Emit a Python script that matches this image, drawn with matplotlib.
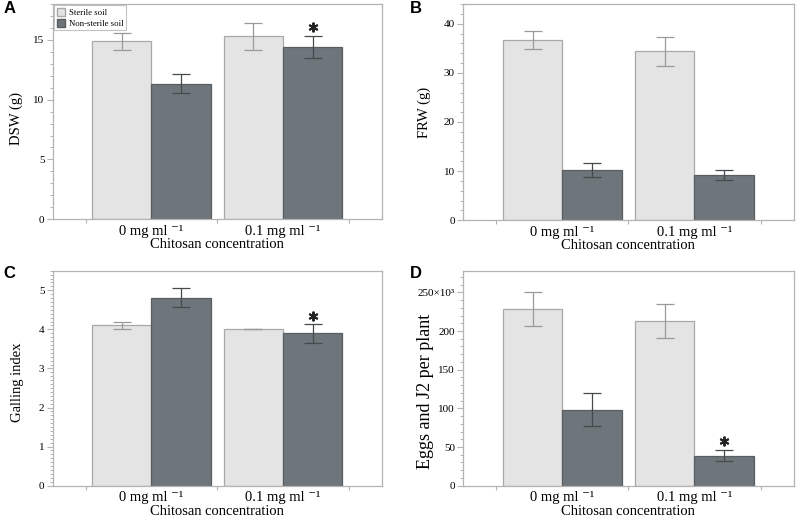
import matplotlib
matplotlib.use("Agg")
import matplotlib.pyplot as plt
from matplotlib.ticker import AutoMinorLocator, FixedLocator, FuncFormatter
from matplotlib.patches import Patch
from matplotlib.transforms import offset_copy

plt.rcParams['font.family'] = ['Liberation Serif', 'DejaVu Serif']

# ---- data ----
concentrations = ["0 mg ml \u207b\u00b9", "0.1 mg ml \u207b\u00b9"]
series_names = ["Sterile soil", "Non-sterile soil"]

dsw_sterile = [14.9, 15.3]
dsw_sterile_err = [0.7, 1.15]
dsw_nonsterile = [11.35, 14.4]
dsw_nonsterile_err = [0.8, 0.95]

frw_sterile = [36.7, 34.4]
frw_sterile_err = [1.9, 3.0]
frw_nonsterile = [10.2, 9.2]
frw_nonsterile_err = [1.4, 0.95]

gall_sterile = [4.1, 4.0]
gall_sterile_err = [0.1, 0.0]
gall_nonsterile = [4.81, 3.9]
gall_nonsterile_err = [0.25, 0.24]

eggs_sterile = [228.5, 213.0]      # x10^3
eggs_sterile_err = [22.5, 21.5]
eggs_nonsterile = [98.5, 39.0]
eggs_nonsterile_err = [21.0, 7.5]

# significance marks (non-sterile bars)
dsw_star = [False, True]
frw_star = [False, False]
gall_star = [False, True]
eggs_star = [False, True]

# ---- style ----
light = "#e4e4e4"
light_edge = "#a8a8a8"
dark = "#6e767b"
dark_edge = "#585d61"
spine_col = "#b4b4b4"

fig = plt.figure(figsize=(8, 5.18), dpi=100)

# letter, axes rect, ylabel, ylabel size, ylabel pos, ytop, ystep, minor subdiv, data...
panels = [
    ("A", [0.066, 0.577, 0.411, 0.415], "DSW (g)", 10.5, (-0.091, 0.47), 18, 5, 5,
     dsw_sterile, dsw_sterile_err, dsw_nonsterile, dsw_nonsterile_err, dsw_star),
    ("B", [0.579, 0.575, 0.413, 0.417], "FRW (g)", 10.5, (-0.098, 0.5), 44, 10, 5,
     frw_sterile, frw_sterile_err, frw_nonsterile, frw_nonsterile_err, frw_star),
    ("C", [0.066, 0.0624, 0.411, 0.415], "Galling index", 10.5, (-0.087, 0.48), 5.5, 1, 10,
     gall_sterile, gall_sterile_err, gall_nonsterile, gall_nonsterile_err, gall_star),
    ("D", [0.579, 0.0624, 0.413, 0.415], "Eggs and J2 per plant", 13, (-0.089, 0.44), 278, 50, 5,
     eggs_sterile, eggs_sterile_err, eggs_nonsterile, eggs_nonsterile_err, eggs_star),
]

w = 0.45
xs = list(range(len(concentrations)))

for letter, pos, ylabel, ylsize, ylpos, ytop, ystep, nminor, s, se, n, ne, star in panels:
    ax = fig.add_axes(pos)
    xl = [x - w / 2 for x in xs]
    xr = [x + w / 2 for x in xs]
    ax.bar(xl, s, width=w, color=light, edgecolor=light_edge, linewidth=0.9, zorder=2)
    ax.bar(xr, n, width=w, color=dark, edgecolor=dark_edge, linewidth=0.9, zorder=2)
    ax.errorbar(xl, s, yerr=se, fmt="none", ecolor="#9a9a9a", elinewidth=0.9,
                capsize=6.5, capthick=0.9, zorder=3)
    ax.errorbar(xr, n, yerr=ne, fmt="none", ecolor="#454a4d", elinewidth=0.9,
                capsize=6.5, capthick=0.9, zorder=3)
    star_tr = offset_copy(ax.transData, fig=fig, x=0, y=6, units="points")
    for i, flag in enumerate(star):
        if flag:
            ax.plot([xr[i]], [n[i] + ne[i]], marker=(6, 2, 0), markersize=7,
                    mew=1.4, color="#222222", transform=star_tr, zorder=4,
                    clip_on=False)

    ax.set_xlim(-0.75, 1.75)
    ax.set_ylim(0, ytop)
    ax.yaxis.set_major_locator(FixedLocator([k * ystep for k in range(int(ytop // ystep) + 1)]))
    ax.yaxis.set_minor_locator(AutoMinorLocator(nminor))
    ax.set_xticks(xs)
    ax.set_xticklabels(concentrations, fontsize=10.5)
    ax.xaxis.set_minor_locator(FixedLocator([-0.5, 0.5, 1.5]))
    ax.tick_params(axis="x", which="major", length=0, pad=4)
    ax.tick_params(axis="x", which="minor", length=3, color=spine_col, width=0.8)
    ax.tick_params(axis="y", which="major", length=4, color=spine_col, width=0.8,
                   labelsize=8, pad=2)
    ax.tick_params(axis="y", which="minor", length=2, color=spine_col, width=0.7)
    for sp in ax.spines.values():
        sp.set_color(spine_col)
        sp.set_linewidth(0.9)
    ax.set_xlabel("Chitosan concentration", fontsize=10.5, labelpad=0.5)
    ax.set_ylabel(ylabel, fontsize=ylsize)
    ax.yaxis.set_label_coords(*ylpos)

    if letter == "D":
        ax.yaxis.set_major_formatter(FuncFormatter(
            lambda v, p: "250\u00d710\u00b3" if v == 250 else "%d" % v))

    if letter == "A":
        handles = [Patch(facecolor=light, edgecolor=light_edge),
                   Patch(facecolor=dark, edgecolor=dark_edge)]
        leg = ax.legend(handles, series_names, loc="upper left", fontsize=6.3,
                        frameon=True, fancybox=False, borderaxespad=0.15,
                        handlelength=1.0, handleheight=1.0, handletextpad=0.4,
                        borderpad=0.3, labelspacing=0.2)
        leg.get_frame().set_edgecolor(spine_col)
        leg.get_frame().set_linewidth(0.8)

    fx = 0.012 if letter in "AC" else 0.52
    fy = 0.984 if letter in "AB" else 0.472
    fig.text(fx, fy, letter, fontsize=12, fontweight="bold",
             family=["Liberation Sans", "DejaVu Sans"], va="center", ha="center")

fig.savefig("out.png", dpi=100)
